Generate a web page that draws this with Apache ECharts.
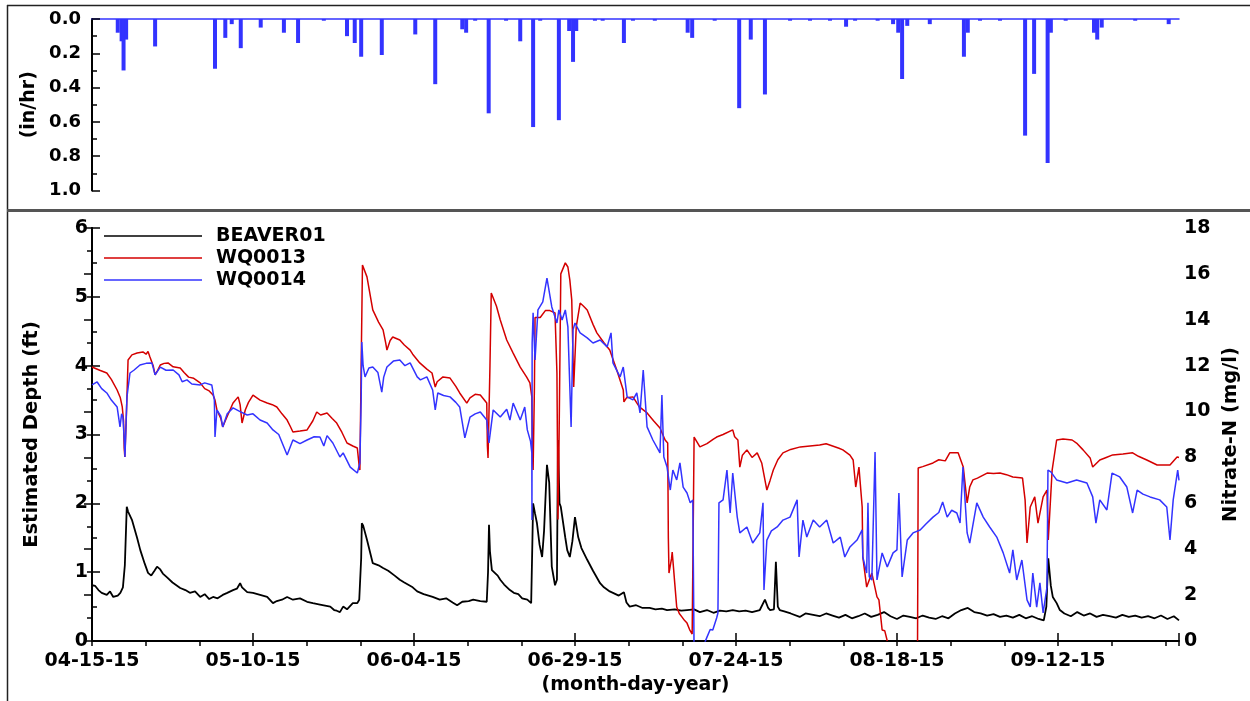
<!DOCTYPE html>
<html>
<head>
<meta charset="utf-8">
<script src="https://cdn.jsdelivr.net/npm/echarts@6/dist/echarts.min.js"></script>
<style>
  html, body { margin: 0; padding: 0; background: #fff; }
  #chart { width: 1250px; height: 701px; }
</style>
</head>
<body>
<div id="chart"></div>
<script>
// x values are days after 04-15-15
const startDate = Date.UTC(2015, 3, 15);
const lastDay = 168.8;

const rain = [
  [4.0,0.08],[4.6,0.13],[4.9,0.30],[5.3,0.12],[9.8,0.16],[19.1,0.29],[20.7,0.11],[21.7,0.03],
  [23.1,0.17],[26.2,0.05],[29.8,0.08],[32.0,0.14],[36.0,0.01],[39.6,0.10],[40.8,0.14],[41.8,0.22],
  [45.0,0.21],[50.2,0.09],[53.3,0.38],[57.5,0.06],[58.1,0.08],[59.5,0.01],[61.6,0.55],[64.3,0.01],
  [66.5,0.13],[68.5,0.63],[69.6,0.01],[72.5,0.59],[74.1,0.07],[74.7,0.25],[75.2,0.07],[78.1,0.01],
  [79.3,0.01],[82.6,0.14],[84.0,0.01],[87.4,0.01],[92.5,0.08],[93.2,0.11],[96.7,0.01],[100.5,0.52],
  [102.3,0.12],[104.5,0.44],[108.4,0.01],[111.5,0.01],[114.6,0.01],[117.1,0.045],[118.5,0.01],
  [122.0,0.01],[124.4,0.03],[125.2,0.08],[125.8,0.35],[126.6,0.04],[130.1,0.03],[135.4,0.22],
  [136.0,0.08],[137.9,0.01],[141.0,0.01],[144.9,0.68],[146.3,0.32],[148.4,0.84],[148.9,0.08],
  [151.2,0.01],[155.6,0.08],[156.1,0.12],[156.8,0.05],[162.0,0.01],[167.2,0.03]
];

const beaver01 = [
  [0,0.81],[0.5,0.80],[1,0.74],[1.5,0.70],[2.3,0.67],[2.8,0.72],[3.3,0.64],[3.6,0.64],[4.0,0.66],[4.4,0.70],
  [4.8,0.78],[5.1,1.1],[5.4,1.95],[5.6,1.88],[6.2,1.76],[7.0,1.50],[7.5,1.32],[8.2,1.12],[8.7,0.99],[9.2,0.95],
  [9.7,1.02],[10.1,1.08],[10.6,1.04],[11.0,0.98],[11.7,0.92],[12.5,0.85],[13.7,0.77],[14.5,0.74],[15.2,0.70],
  [16.0,0.72],[16.8,0.64],[17.5,0.68],[18.2,0.61],[18.8,0.64],[19.5,0.62],[20.3,0.67],[21.0,0.70],[21.9,0.74],
  [22.5,0.76],[23.0,0.84],[23.3,0.78],[24.1,0.71],[25.0,0.70],[26.1,0.67],[27.2,0.64],[28.1,0.55],[28.7,0.58],
  [29.5,0.60],[30.3,0.64],[31.2,0.60],[32.3,0.62],[33.4,0.57],[34.3,0.55],[35.4,0.53],[37.0,0.50],[37.6,0.45],
  [38.0,0.44],[38.5,0.42],[39.0,0.50],[39.6,0.46],[40.5,0.55],[41.2,0.55],[41.5,0.60],[41.8,1.2],[41.9,1.71],
  [42.1,1.68],[42.7,1.47],[43.6,1.13],[44.5,1.10],[45.2,1.06],[46.0,1.02],[47.0,0.95],[47.8,0.89],[48.5,0.85],
  [49.8,0.78],[50.5,0.72],[51.5,0.68],[52.9,0.64],[54.0,0.60],[55.0,0.62],[56.0,0.56],[56.7,0.52],[57.5,0.57],
  [58.5,0.58],[59.2,0.60],[60.3,0.58],[61.3,0.57],[61.5,1.0],[61.65,1.69],[61.8,1.30],[62.1,1.03],[63.0,0.95],
  [63.4,0.89],[64.0,0.82],[64.9,0.74],[65.5,0.70],[66.2,0.68],[66.8,0.62],[67.6,0.60],[68.2,0.55],[68.4,1.5],
  [68.5,2.0],[68.8,1.85],[69.1,1.71],[69.5,1.40],[69.9,1.22],[70.2,1.6],[70.65,2.56],[71.0,2.3],[71.4,1.08],
  [71.9,0.81],[72.2,0.89],[72.36,2.92],[72.6,2.0],[72.8,1.95],[73.5,1.50],[73.8,1.32],[74.2,1.22],[74.6,1.45],
  [75.0,1.80],[75.5,1.51],[76.0,1.35],[76.9,1.18],[77.8,1.02],[78.9,0.84],[79.5,0.78],[80.4,0.72],[80.9,0.70],
  [81.8,0.66],[82.6,0.71],[83.0,0.56],[83.5,0.50],[84.5,0.52],[85.5,0.48],[86.6,0.48],[87.5,0.46],[88.5,0.47],
  [89.3,0.45],[90.5,0.46],[91.5,0.44],[92.4,0.45],[93.5,0.46],[94.4,0.42],[95.5,0.45],[96.5,0.41],[97.5,0.44],
  [98.5,0.43],[99.5,0.45],[100.5,0.43],[101.5,0.44],[102.5,0.42],[103.7,0.45],[104.5,0.60],[105.0,0.48],
  [105.3,0.45],[105.9,0.46],[106.2,1.15],[106.5,0.50],[106.8,0.45],[107.5,0.43],[108.5,0.40],[109.9,0.35],
  [110.8,0.40],[112,0.38],[113,0.36],[114,0.40],[115,0.37],[116,0.34],[117,0.38],[118,0.33],[119,0.36],[120,0.40],
  [121,0.35],[122,0.38],[123,0.42],[124,0.36],[125,0.32],[126,0.37],[127,0.35],[128,0.33],[129,0.37],[130,0.34],
  [131,0.32],[132,0.36],[133,0.33],[134,0.40],[135,0.45],[136,0.48],[137,0.42],[138,0.40],[139,0.37],[140,0.39],
  [141,0.35],[142,0.37],[143,0.34],[144,0.38],[145,0.33],[146,0.36],[147,0.32],[147.8,0.30],[148.2,0.5],
  [148.5,1.2],[148.9,0.80],[149.2,0.64],[149.8,0.55],[150.3,0.45],[151,0.40],[152,0.36],[153,0.42],[154,0.37],
  [155,0.40],[156,0.35],[157,0.38],[158,0.36],[159,0.34],[160,0.38],[161,0.35],[162,0.37],[163,0.34],[164,0.36],
  [165,0.33],[166,0.37],[167,0.32],[168,0.36],[168.8,0.30]
];

const wq0013 = [
  [0,11.94],[1.2,11.8],[2.3,11.68],[3.0,11.4],[3.9,10.94],[4.4,10.6],[4.7,10.2],[4.9,9.6],[5.0,8.4],[5.1,8.02],
  [5.3,9.5],[5.6,12.25],[6.2,12.47],[7.0,12.55],[7.9,12.6],[8.4,12.5],[8.7,12.62],[9.0,12.38],[9.5,12.0],
  [9.8,11.6],[10.2,11.8],[10.6,12.03],[11.2,12.1],[11.8,12.12],[12.6,11.95],[13.7,11.9],[14.3,11.7],[15.0,11.5],
  [15.8,11.45],[16.8,11.25],[17.5,11.0],[18.2,10.9],[18.8,10.72],[19.1,10.5],[19.4,10.07],[20.0,9.7],[20.3,9.33],
  [20.7,9.6],[21.9,10.37],[22.7,10.64],[23.0,10.3],[23.3,9.5],[23.8,10.07],[24.3,10.4],[25.0,10.72],[25.6,10.6],
  [26.1,10.5],[27.2,10.37],[28.0,10.3],[28.7,10.2],[29.5,9.9],[30.3,9.63],[30.8,9.35],[31.2,9.11],[32.3,9.15],
  [33.4,9.2],[34.3,9.6],[34.9,9.98],[35.5,9.85],[36.5,9.94],[37.3,9.7],[38.0,9.5],[38.8,9.1],[39.6,8.63],
  [40.5,8.5],[41.2,8.41],[41.5,7.6],[41.6,7.45],[41.8,12],[42.0,16.39],[42.7,15.87],[43.6,14.43],[44.5,13.9],
  [45.2,13.56],[45.6,13.0],[45.8,12.68],[46.3,13.1],[46.7,13.25],[47.8,13.12],[48.5,12.9],[49.4,12.68],
  [49.8,12.5],[50.9,12.12],[52.0,11.85],[52.8,11.68],[53.3,11.07],[53.6,11.3],[54.5,11.51],[55.6,11.46],
  [56.5,11.1],[57.1,10.81],[58.2,10.37],[58.7,10.6],[59.5,10.75],[60.3,10.72],[61.3,10.37],[61.4,8.5],
  [61.5,7.98],[61.8,12.0],[62.0,15.17],[62.3,15.2],[62.8,14.6],[63.4,13.99],[64.4,13.12],[65.4,12.55],
  [66.5,11.94],[67.5,11.5],[68.0,11.25],[68.3,10.64],[68.4,8.0],[68.5,7.45],[68.7,11.0],[68.8,14.1],[69.6,14.1],
  [70.4,14.4],[71.1,14.4],[71.9,14.3],[72.2,11.68],[72.36,5.3],[72.5,8.0],[72.8,16.0],[73.5,16.48],[73.9,16.3],
  [74.2,15.74],[74.5,14.87],[74.8,11.07],[75.2,13.69],[75.8,14.73],[76.3,14.6],[76.9,14.43],[77.8,13.8],
  [78.4,13.43],[79.5,13.0],[80.4,12.68],[81.5,11.8],[82.5,10.94],[82.6,10.42],[83.0,10.6],[84.0,10.64],
  [85.0,10.2],[86.2,9.94],[87.2,9.6],[88.2,9.28],[89.0,8.76],[89.4,8.63],[89.5,4.5],[89.6,2.96],[90.0,3.6],
  [90.1,3.88],[90.3,3.2],[90.5,2.5],[90.8,1.48],[91.2,1.2],[91.6,1.05],[92.0,0.9],[92.4,0.78],[92.8,0.5],
  [93.2,0.3],[93.4,0.25],[93.5,8.89],[94.4,8.46],[95.5,8.6],[96.5,8.8],[97.0,8.89],[98.0,9.0],[99.5,9.2],
  [99.8,8.9],[100.3,8.76],[100.6,7.58],[101.0,8.1],[101.7,8.33],[102.5,8.0],[103.3,8.2],[104.0,7.76],
  [104.8,6.58],[105.3,7.0],[105.8,7.45],[106.5,7.9],[107.3,8.2],[108.5,8.35],[110,8.46],[111.5,8.5],[113,8.54],
  [114,8.6],[115,8.5],[116,8.4],[116.6,8.33],[117.7,8.1],[118.2,7.89],[118.6,6.71],[119.1,7.58],[119.6,5.84],
  [119.7,3.66],[120.3,2.35],[121.1,2.96],[121.9,1.92],[122.2,1.79],[122.7,0.48],[123.1,0.45],[123.5,0],
  [123.6,'-'],
  [128.2,0],[128.3,7.54],[129,7.6],[130.6,7.76],[131.5,7.9],[132.5,7.85],[133.2,8.2],[134.5,8.2],[135.3,7.58],
  [135.9,6.02],[136.3,6.71],[136.8,7.02],[137.5,7.1],[139.0,7.32],[140.0,7.3],[141.0,7.32],[142.0,7.25],
  [143.0,7.15],[144.5,7.1],[144.9,6.15],[145.2,4.27],[145.7,5.84],[146.4,6.28],[146.9,5.14],[147.7,6.28],
  [148.3,6.58],[148.5,4.4],[149.1,7.45],[149.8,8.76],[150.8,8.8],[152.2,8.76],[153.0,8.6],[153.9,8.33],
  [155.0,7.98],[155.4,7.58],[156.5,7.89],[157.5,8.0],[158.5,8.11],[160.1,8.15],[161.6,8.2],[162.5,8.05],
  [163.8,7.89],[165.4,7.67],[167.4,7.67],[168.5,8.02],[168.8,8.0]
];

const wq0014 = [
  [0,11.16],[0.8,11.29],[1.5,11.0],[2.3,10.81],[3.0,10.5],[3.9,10.2],[4.35,9.33],[4.6,9.9],[4.8,9.76],[5.0,8.8],
  [5.12,8.02],[5.3,9.6],[5.43,10.64],[5.9,11.68],[6.5,11.8],[7.45,12.03],[8.4,12.1],[9.3,12.12],[9.8,11.6],
  [10.6,11.94],[11.5,11.8],[12.6,11.81],[13.5,11.6],[14.0,11.3],[14.75,11.38],[15.5,11.2],[16.8,11.16],
  [17.5,11.25],[18.6,11.16],[19.0,10.5],[19.1,8.89],[19.4,10.07],[20.0,9.8],[20.3,9.33],[21.0,9.9],[21.9,10.16],
  [23.0,10.0],[24.1,9.85],[25.0,9.9],[26.1,9.63],[27.2,9.5],[28.1,9.2],[29.0,9.0],[30.3,8.11],[31.2,8.76],
  [32.3,8.6],[33.4,8.76],[34.5,8.9],[35.4,8.89],[36.0,8.5],[36.5,8.95],[37.4,8.63],[38.5,8.02],[39.0,8.2],
  [40.1,7.58],[41.2,7.32],[41.6,7.76],[41.8,10.5],[41.9,13.03],[42.1,12.0],[42.4,11.51],[43.0,11.9],[43.6,11.94],
  [44.4,11.7],[45.0,10.85],[45.3,11.5],[45.8,11.94],[46.8,12.2],[47.8,12.25],[48.6,12.0],[49.4,12.12],
  [50.5,11.51],[51.0,11.38],[52.0,11.51],[52.9,10.94],[53.3,10.07],[53.7,10.81],[54.6,10.7],[55.6,10.64],
  [56.5,10.4],[57.1,10.2],[57.9,8.85],[58.7,9.76],[59.5,9.9],[60.3,9.98],[61.3,9.63],[61.65,8.63],[62.3,10.07],
  [63.4,9.76],[64.4,10.1],[64.9,9.63],[65.4,10.37],[66.5,9.63],[67.2,10.2],[67.6,9.2],[68.1,8.7],[68.3,8.2],
  [68.32,5.27],[68.35,12.99],[68.5,14.3],[68.8,12.25],[69.25,14.43],[70.0,14.78],[70.65,15.82],[71.4,14.56],
  [72.2,13.86],[72.5,14.43],[73.0,13.99],[73.5,14.43],[73.9,13.69],[74.4,9.33],[74.7,13.56],[75.0,13.86],
  [75.8,13.43],[76.9,13.21],[77.8,12.99],[78.9,13.12],[80.0,12.82],[80.6,13.43],[80.9,12.12],[82.0,11.51],
  [82.5,11.94],[83.1,10.64],[84.0,10.51],[84.6,10.81],[85.1,9.94],[85.6,11.81],[86.2,9.33],[87.1,8.76],
  [88.2,8.2],[88.5,10.72],[88.8,8.02],[89.3,7.58],[89.8,6.58],[90.2,7.45],[90.8,7.02],[91.3,7.76],[91.8,6.71],
  [92.4,6.45],[92.9,6.02],[93.3,6.15],[93.5,-0.5],[94.4,-0.6],[95.5,0.17],[96.0,0.5],[96.4,0.48],[97.0,1.0],
  [97.2,1.22],[97.36,6.02],[98.0,6.15],[98.6,7.45],[99.1,5.58],[99.5,7.32],[100.2,5.4],[100.6,4.71],[101.7,4.97],
  [102.6,4.27],[103.7,4.71],[104.2,6.02],[104.35,2.22],[104.8,4.4],[105.5,4.8],[106.4,4.97],[107.3,5.27],
  [108.4,5.4],[109.5,6.15],[109.8,3.66],[110.4,5.27],[111.0,4.53],[112.0,5.27],[113.0,4.97],[114.1,5.27],
  [115.1,4.27],[116.2,4.53],[116.9,3.66],[117.7,4.1],[118.8,4.4],[119.6,4.84],[119.7,3.66],[120.3,2.96],
  [120.5,6.02],[120.7,2.8],[121.1,2.66],[121.6,8.24],[121.9,2.66],[122.7,3.84],[123.5,3.23],[124.4,3.84],
  [125.0,3.97],[125.3,6.45],[125.8,2.79],[126.6,4.4],[127.5,4.71],[128.6,4.84],[129.5,5.1],[130.6,5.4],
  [131.5,5.6],[132.1,6.06],[132.8,5.4],[133.5,5.7],[134.3,5.58],[134.8,5.14],[135.25,7.58],[135.9,4.71],
  [136.3,4.27],[137.4,6.02],[138.4,5.4],[139.4,4.97],[140.5,4.53],[141.5,3.84],[142.5,2.96],[143.0,3.97],
  [143.6,2.66],[144.4,3.53],[145.2,1.79],[145.7,1.48],[146.1,2.96],[146.7,1.48],[147.2,2.53],[147.7,1.22],
  [148.3,2.35],[148.45,7.45],[148.9,7.37],[149.8,7.02],[151.4,6.89],[152.9,7.02],[154.5,6.89],[155.4,6.28],
  [155.9,5.14],[156.5,6.15],[157.6,5.71],[158.4,7.32],[159.6,7.15],[160.7,6.71],[161.6,5.58],[162.3,6.58],
  [163.2,6.4],[164.3,6.28],[165.8,6.15],[166.9,5.84],[167.4,4.4],[167.9,6.15],[168.6,7.45],[168.8,7.0]
];

const font = 'DejaVu Sans';
const bold = { fontFamily: font, fontWeight: 'bold', color: '#000' };

function dayLabel(v) {
  if (Math.abs(v / 25 - Math.round(v / 25)) > 1e-6) return '';
  const d = new Date(startDate + Math.round(v) * 86400000);
  const p = (n) => String(n).padStart(2, '0');
  return p(d.getUTCMonth() + 1) + '-' + p(d.getUTCDate()) + '-' + p(d.getUTCFullYear() % 100);
}

const chart = echarts.init(document.getElementById('chart'), null, { renderer: 'canvas' });

chart.setOption({
  backgroundColor: '#fff',
  animation: false,
  grid: [
    { left: 92, right: 71, top: 19, height: 171.5 },
    { left: 92, right: 71, top: 228, bottom: 60 }
  ],
  legend: {
    orient: 'vertical',
    left: 99,
    top: 220,
    icon: 'rect',
    itemWidth: 98,
    itemHeight: 1.6,
    itemGap: 0,
    data: ['BEAVER01', 'WQ0013', 'WQ0014'],
    textStyle: Object.assign({ fontSize: 19, lineHeight: 22, padding: [0, 0, 0, 9] }, bold)
  },
  xAxis: [
    {
      type: 'value', gridIndex: 0, min: 0, max: lastDay, position: 'top',
      axisLine: { onZero: false, lineStyle: { color: '#3333ff', width: 1.5 } },
      axisTick: { show: false }, axisLabel: { show: false }, splitLine: { show: false }
    },
    {
      type: 'value', gridIndex: 1, min: 0, max: lastDay, interval: 25,
      name: '(month-day-year)', nameLocation: 'middle', nameGap: 35,
      nameTextStyle: Object.assign({ fontSize: 19 }, bold),
      axisLine: { onZero: false, lineStyle: { color: '#000', width: 2 } },
      axisTick: { inside: true, length: 8, lineStyle: { color: '#000', width: 1.5 } },
      axisLabel: Object.assign({ fontSize: 19, margin: 11, formatter: dayLabel }, bold),
      splitLine: { show: false }
    },
    {
      type: 'value', gridIndex: 1, min: 0, max: lastDay, interval: 25 / 3,
      axisLine: { show: false },
      axisTick: { inside: true, length: 5, lineStyle: { color: '#000', width: 1.5 } },
      axisLabel: { show: false }, splitLine: { show: false }
    }
  ],
  yAxis: [
    {
      type: 'value', gridIndex: 0, min: 0, max: 1, interval: 0.2, inverse: true,
      name: '(in/hr)', nameLocation: 'middle', nameGap: 51,
      nameTextStyle: Object.assign({ fontSize: 19 }, bold),
      axisLine: { show: true, lineStyle: { color: '#000', width: 2 } },
      axisTick: { inside: true, length: 8, lineStyle: { color: '#000', width: 1.5 } },
      minorTick: { show: true, splitNumber: 2, length: 5, lineStyle: { color: '#000', width: 1.5 } },
      axisLabel: Object.assign({ fontSize: 18, margin: 11, formatter: (v) => v.toFixed(1) }, bold),
      splitLine: { show: false }
    },
    {
      type: 'value', gridIndex: 1, min: 0, max: 6, interval: 1,
      name: 'Estimated Depth (ft)', nameLocation: 'middle', nameGap: 50,
      nameTextStyle: Object.assign({ fontSize: 19.5 }, bold),
      axisLine: { show: true, lineStyle: { color: '#000', width: 2 } },
      axisTick: { inside: true, length: 8, lineStyle: { color: '#000', width: 1.5 } },
      minorTick: { show: true, splitNumber: 2, length: 5, lineStyle: { color: '#000', width: 1.5 } },
      axisLabel: Object.assign({ fontSize: 19, margin: 4 }, bold),
      splitLine: { show: false }
    },
    {
      type: 'value', gridIndex: 1, min: 0, max: 18, interval: 2, position: 'right',
      name: 'Nitrate-N (mg/l)', nameLocation: 'middle', nameGap: 36,
      nameTextStyle: Object.assign({ fontSize: 19.5 }, bold),
      axisLine: { show: true, lineStyle: { color: '#000', width: 2 } },
      axisTick: { inside: true, length: 8, lineStyle: { color: '#000', width: 1.5 } },
      minorTick: { show: true, splitNumber: 2, length: 5, lineStyle: { color: '#000', width: 1.5 } },
      axisLabel: Object.assign({ fontSize: 19, margin: 5 }, bold),
      splitLine: { show: false }
    }
  ],
  series: [
    {
      name: 'rain', type: 'bar', xAxisIndex: 0, yAxisIndex: 0,
      barWidth: 4, itemStyle: { color: '#3333ff' }, data: rain
    },
    {
      name: 'BEAVER01', type: 'line', xAxisIndex: 1, yAxisIndex: 1, symbol: 'none',
      color: '#000', lineStyle: { color: '#000', width: 1.8 }, data: beaver01
    },
    {
      name: 'WQ0013', type: 'line', xAxisIndex: 1, yAxisIndex: 2, symbol: 'none',
      color: '#d40000', lineStyle: { color: '#d40000', width: 1.5 }, data: wq0013
    },
    {
      name: 'WQ0014', type: 'line', xAxisIndex: 1, yAxisIndex: 2, symbol: 'none',
      color: '#3333ff', lineStyle: { color: '#3333ff', width: 1.5 }, data: wq0014
    }
  ],
  graphic: [
    { type: 'line', shape: { x1: 7, y1: 5.5, x2: 1250, y2: 5.5 }, style: { stroke: '#222', lineWidth: 1.5 } },
    { type: 'line', shape: { x1: 7.5, y1: 5, x2: 7.5, y2: 701 }, style: { stroke: '#222', lineWidth: 1.5 } },
    { type: 'line', shape: { x1: 7, y1: 210.5, x2: 1250, y2: 210.5 }, style: { stroke: '#555', lineWidth: 3 } }
  ]
});
</script>
</body>
</html>
